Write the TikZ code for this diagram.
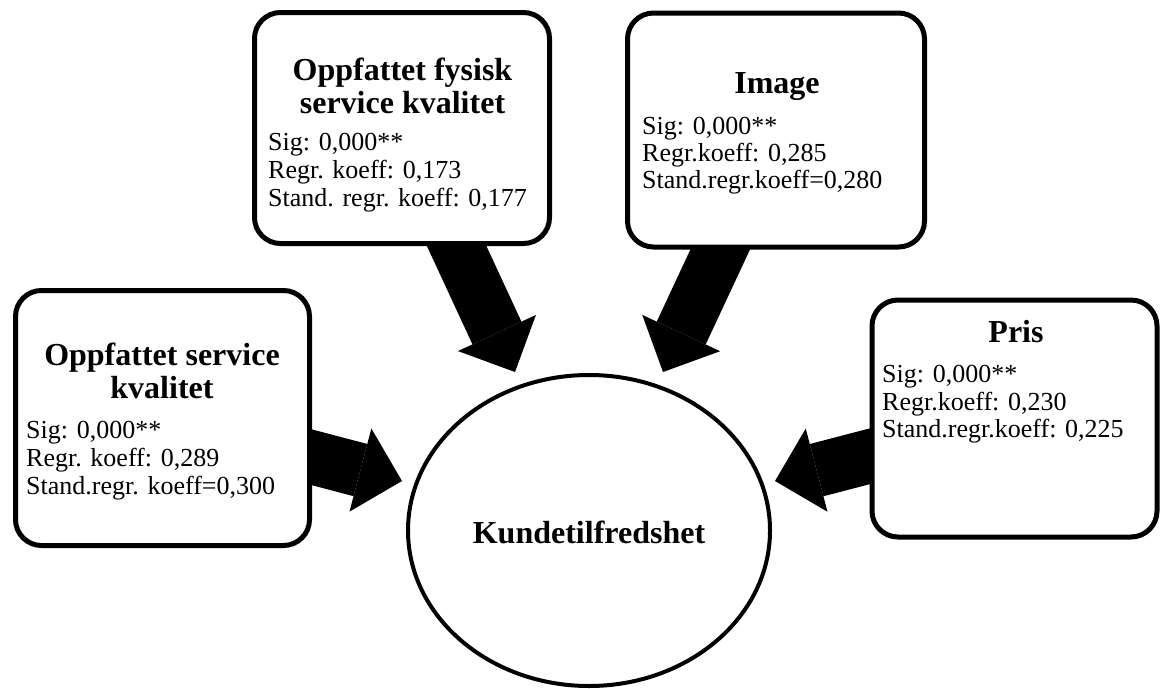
\documentclass[tikz,border=0pt]{standalone}
\usepackage{fontspec}
\setmainfont{Liberation Serif}
\usetikzlibrary{shapes.geometric,arrows.meta,backgrounds}
\begin{document}
\begin{tikzpicture}[x=1pt,y=-1pt,
  box/.style={rectangle, draw=black, fill=white, line width=5pt, rounded corners=26pt, inner sep=0pt},
  hub/.style={ellipse, draw=black, fill=white, line width=4pt, inner sep=0pt},
  heading/.style={font=\fontsize{32}{33}\selectfont\bfseries, inner sep=0pt, anchor=base},
  stat/.style={font=\fontsize{26}{28}\selectfont, inner sep=0pt, anchor=base west},
  bigarrow/.style={line width=54pt, -{Triangle[length=43pt, width=86pt, line width=0pt]}}]

\useasboundingbox (0,0) rectangle (1161,688);

% factor boxes
\node[box, minimum width=294pt, minimum height=255pt] (A) at (162.5,418) {};
\node[box, minimum width=295pt, minimum height=231pt] (B) at (402,128) {};
\node[box, minimum width=297pt, minimum height=234pt] (C) at (776,130) {};
\node[box, minimum width=285pt, minimum height=237pt] (D) at (1014.5,418.5) {};

% outcome
\node[hub, minimum width=362pt, minimum height=311pt] (K) at (589,530.5) {};
\node[heading] (K-t) at (589,543) {Kundetilfredshet};

% Oppfattet service kvalitet
\node[heading] (A-t1) at (162,365) {Oppfattet service};
\node[heading] (A-t2) at (162,398) {kvalitet};
\node[stat] (A-s1) at (26,438) {Sig: 0,000**};
\node[stat] (A-s2) at (26,466) {Regr. koeff: 0,289};
\node[stat] (A-s3) at (26,494) {Stand.regr. koeff=0,300};

% Oppfattet fysisk service kvalitet
\node[heading] (B-t1) at (402.5,80) {Oppfattet fysisk};
\node[heading] (B-t2) at (402.5,113) {service kvalitet};
\node[stat] (B-s1) at (268,150) {Sig: 0,000**};
\node[stat] (B-s2) at (268,178) {Regr. koeff: 0,173};
\node[stat] (B-s3) at (268,206) {Stand. regr. koeff: 0,177};

% Image
\node[heading] (C-t1) at (777,93) {Image};
\node[stat] (C-s1) at (642,134) {Sig: 0,000**};
\node[stat] (C-s2) at (642,161) {Regr.koeff: 0,285};
\node[stat] (C-s3) at (642,188) {Stand.regr.koeff=0,280};

% Pris
\node[heading] (D-t1) at (1016,342) {Pris};
\node[stat] (D-s1) at (882,382) {Sig: 0,000**};
\node[stat] (D-s2) at (882,410) {Regr.koeff: 0,230};
\node[stat] (D-s3) at (882,437) {Stand.regr.koeff: 0,225};

% arrow tips next to the outcome
\coordinate (tipA) at (402,481);
\coordinate (tipB) at (515,372);
\coordinate (tipC) at (663,372);
\coordinate (tipD) at (775,481);

% block arrows, drawn behind the boxes
\begin{scope}[on background layer]
  \fill[white] (0,0) rectangle (1161,688);
  \draw[bigarrow] (A.center) -- (tipA);
  \draw[bigarrow] (B.center) -- (tipB);
  \draw[bigarrow] (C.center) -- (tipC);
  \draw[bigarrow] (D.center) -- (tipD);
\end{scope}
\end{tikzpicture}
\end{document}
